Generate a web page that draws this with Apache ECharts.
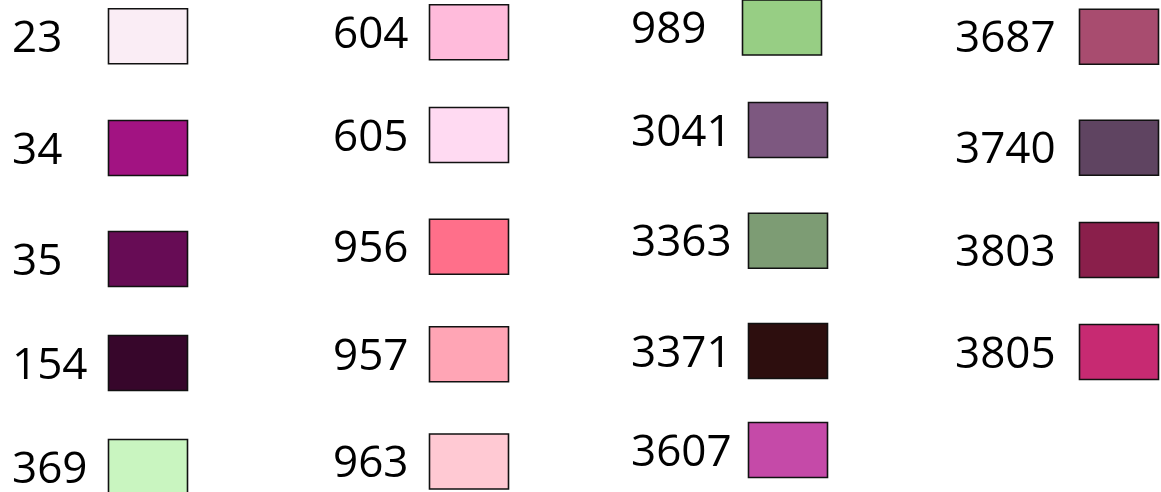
<!DOCTYPE html>
<html><head><meta charset="utf-8">
<script src="https://cdn.jsdelivr.net/npm/echarts@6/dist/echarts.min.js"></script>
<style>html,body{margin:0;padding:0;background:#fff}#c{width:1161px;height:492px}</style>
</head><body><div id="c"></div>
<script>
const codes = ['23','34','35','154','369','604','605','956','957','963','989','3041','3363','3371','3607','3687','3740','3803','3805'];
const colors = ['#FAEDF5','#A21382','#670C55','#37062B','#C9F5C0','#FFBBDB','#FFDAF2','#FF6F8A','#FFA5B5','#FFC9D3','#97CE84','#7D5880','#7D9C74','#2D0E0E','#C54AA8','#A84C6F','#5F4461','#8A1F4B','#C72A72'];
const labelX = [12,12,12,12,12,333,333,333,333,333,631,631,631,631,631,955,955,955,955];
const swatchX = [148,148,148,148,148,469,469,469,469,469,782,788,788,788,788,1119,1119,1119,1119];
const centerY = [36.3,148,259,363,467,32.3,135,246.7,354.3,461.5,27.5,130,240.7,351,450,36.7,147.7,250,352];

const data = codes.map((c,i)=>[swatchX[i], centerY[i], labelX[i], c, colors[i]]);
const chart = echarts.init(document.getElementById('c'), null, {renderer:'canvas'});
chart.setOption({
  animation:false,
  grid:{left:0,right:0,top:0,bottom:0},
  xAxis:{type:'value',min:0,max:1161,show:false},
  yAxis:{type:'value',min:0,max:492,inverse:true,show:false},
  series:[{
    type:'custom',
    data:data,
    renderItem:function(params, api){
      const i = params.dataIndex;
      const p = api.coord([api.value(0), api.value(1)]);
      const lp = api.coord([api.value(2), api.value(1)]);
      return {type:'group',children:[
        {type:'rect',shape:{x:p[0]-39.5,y:p[1]-27.5,width:79,height:55},
         style:{fill:colors[i],stroke:'#111',lineWidth:1.6}},
        {type:'text',x:lp[0],y:p[1]+3,style:{text:codes[i],fill:'#000',
          font:'44px "Open Sans"',textAlign:'left',textVerticalAlign:'middle'}}
      ]};
    }
  }]
});
</script></body></html>
